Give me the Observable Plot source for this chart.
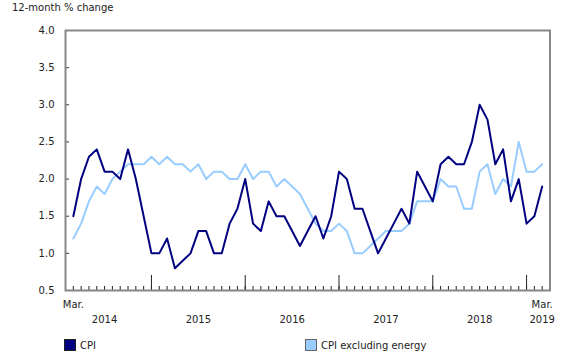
<!DOCTYPE html>
<html>
<head>
<meta charset="utf-8">
<script src="https://cdn.jsdelivr.net/npm/d3@7"></script>
<script src="https://cdn.jsdelivr.net/npm/@observablehq/plot@0.6"></script>
<style>
  html, body { margin: 0; padding: 0; background: #fff; }
  body { width: 580px; height: 360px; overflow: hidden; font-family: "DejaVu Sans", Verdana, sans-serif; color: #222; }
  #title { height: 20px; font-size: 10px; line-height: 16px; padding-left: 12px; box-sizing: border-box; }
  #chart svg { display: block; }
  #legend { position: relative; height: 30px; font-size: 10px; }
  .item { position: absolute; top: 9px; display: flex; align-items: center; }
  .sw { width: 10px; height: 10px; margin-right: 4px; box-sizing: content-box; }
</style>
</head>
<body>
<div id="title">12-month % change</div>
<div id="chart"></div>
<div id="legend"></div>
<script>
// Months: March 2014 to March 2019 (index 0..60)
const seriesNames = ["CPI", "CPI excluding energy"];
const seriesColors = ["#000080", "#99ccff"];

const cpi = [
  1.5, 2.0, 2.3, 2.4, 2.1, 2.1, 2.0, 2.4, 2.0, 1.5,
  1.0, 1.0, 1.2, 0.8, 0.9, 1.0, 1.3, 1.3, 1.0, 1.0, 1.4, 1.6,
  2.0, 1.4, 1.3, 1.7, 1.5, 1.5, 1.3, 1.1, 1.3, 1.5, 1.2, 1.5,
  2.1, 2.0, 1.6, 1.6, 1.3, 1.0, 1.2, 1.4, 1.6, 1.4, 2.1, 1.9,
  1.7, 2.2, 2.3, 2.2, 2.2, 2.5, 3.0, 2.8, 2.2, 2.4, 1.7, 2.0,
  1.4, 1.5, 1.9
];
const cpiExEnergy = [
  1.2, 1.4, 1.7, 1.9, 1.8, 2.0, 2.1, 2.2, 2.2, 2.2,
  2.3, 2.2, 2.3, 2.2, 2.2, 2.1, 2.2, 2.0, 2.1, 2.1, 2.0, 2.0,
  2.2, 2.0, 2.1, 2.1, 1.9, 2.0, 1.9, 1.8, 1.6, 1.4, 1.3, 1.3,
  1.4, 1.3, 1.0, 1.0, 1.1, 1.2, 1.3, 1.3, 1.3, 1.4, 1.7, 1.7,
  1.7, 2.0, 1.9, 1.9, 1.6, 1.6, 2.1, 2.2, 1.8, 2.0, 1.9, 2.5,
  2.1, 2.1, 2.2
];

const yTicks = [0.5, 1.0, 1.5, 2.0, 2.5, 3.0, 3.5, 4.0];
// tick label rows: month index -> label
const monthLabelIdx = [0, 60];
const monthLabels = ["Mar.", "Mar."];
const yearLabelIdx = [4, 16, 28, 40, 52, 60];
const yearLabels = ["2014", "2015", "2016", "2017", "2018", "2019"];
const januaryIdx = [10, 22, 34, 46, 58];

const monthIdx = cpi.map((_, i) => i);
const rows = [];
cpi.forEach((v, i) => rows.push({i, value: v, series: seriesNames[0]}));
cpiExEnergy.forEach((v, i) => rows.push({i, value: v, series: seriesNames[1]}));
const monthLabelRows = monthLabelIdx.map((i, k) => ({i, label: monthLabels[k]}));
const yearLabelRows = yearLabelIdx.map((i, k) => ({i, label: yearLabels[k]}));

const chart = Plot.plot({
  width: 580,
  height: 310,
  marginTop: 10,
  marginBottom: 40,
  marginLeft: 65,
  marginRight: 30.5,
  style: {fontFamily: "'DejaVu Sans', Verdana, sans-serif", fontSize: "10px", color: "#222", background: "#fff"},
  x: {domain: [-1, 61]},
  y: {domain: [0.5, 4.0]},
  color: {domain: seriesNames, range: seriesColors},
  marks: [
    Plot.axisX({ticks: monthIdx, tickSize: -4, tickFormat: () => "", label: null, stroke: "#222"}),
    Plot.axisX({ticks: januaryIdx, tickSize: -15, tickFormat: () => "", label: null, stroke: "#222"}),
    Plot.axisY({ticks: yTicks, tickSize: -4, tickPadding: 15, tickFormat: d3.format(".1f"), label: null, stroke: "#333"}),
    Plot.text(monthLabelRows, {x: "i", text: "label", frameAnchor: "bottom", dy: 17, fill: "#222"}),
    Plot.text(yearLabelRows, {x: "i", text: "label", frameAnchor: "bottom", dy: 32, fill: "#222"}),
    Plot.frame({stroke: "#878787", strokeWidth: 2}),
    Plot.line(rows.filter(d => d.series === seriesNames[1]), {x: "i", y: "value", stroke: "series", strokeWidth: 2}),
    Plot.line(rows.filter(d => d.series === seriesNames[0]), {x: "i", y: "value", stroke: "series", strokeWidth: 2})
  ]
});
document.getElementById("chart").appendChild(chart);

const legend = document.getElementById("legend");
const legendLeft = [64, 305];
seriesNames.forEach((name, k) => {
  const item = document.createElement("div");
  item.className = "item";
  item.style.left = legendLeft[k] + "px";
  const sw = document.createElement("span");
  sw.className = "sw";
  sw.style.background = seriesColors[k];
  sw.style.border = "1px solid " + (k === 0 ? "#222" : "#666");
  item.appendChild(sw);
  const t = document.createElement("span");
  t.textContent = name;
  item.appendChild(t);
  legend.appendChild(item);
});
</script>
</body>
</html>
